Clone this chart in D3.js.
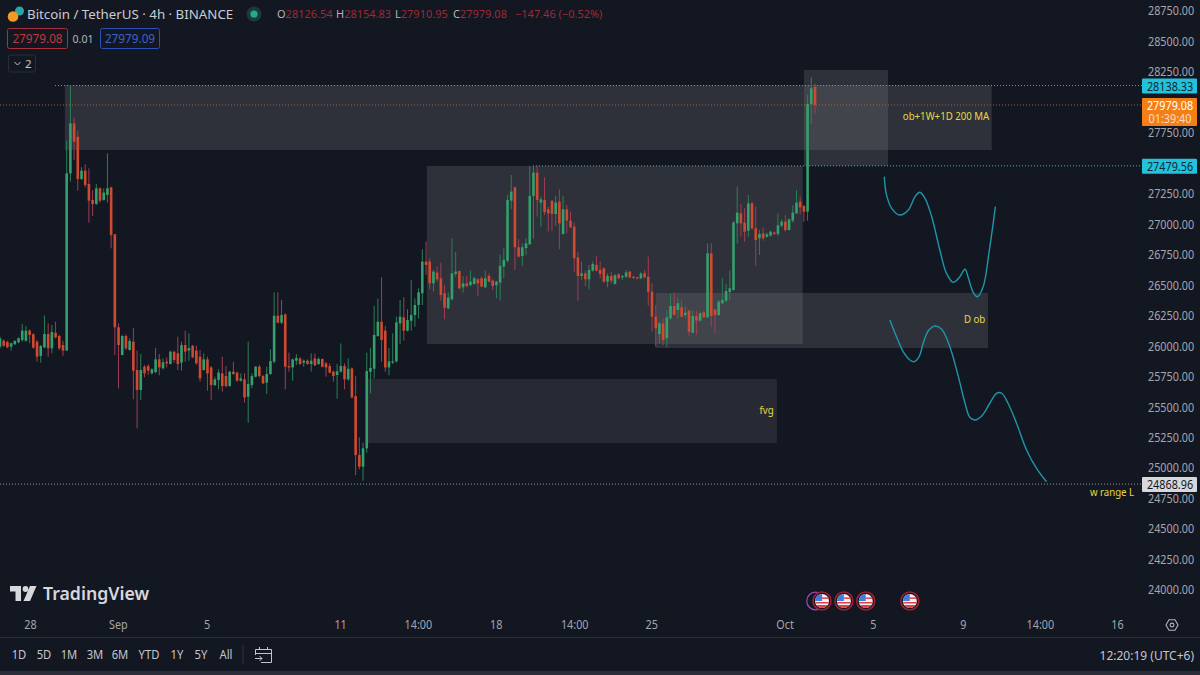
<!DOCTYPE html>
<html>
<head>
<meta charset="utf-8">
<script src="https://cdn.jsdelivr.net/npm/d3@7"></script>
<style>
html, body { margin: 0; padding: 0; background: #131722; overflow: hidden; }
svg text { font-family: "Noto Sans", sans-serif; }
</style>
</head>
<body>
<div id="chart"></div>
<script>
'use strict';

// 4h candles, oldest first
var opens = [25996,26045,26035,25996,26016,26032,26051,26045,26128,26098,26037,25920,25991,26100,25983,26111,26084,26010,25964,27418,27828,27719,27372,27440,27331,27200,27167,27295,27200,27241,27303,26918,26155,25928,26084,25969,26037,25805,25641,25832,25838,25778,25788,25892,25819,25873,25854,25955,25942,25865,26010,25964,26004,25964,
	25914,25805,25892,25826,25681,25723,25777,25755,25673,25791,25783,25717,25728,25586,25681,25750,25832,25755,25701,25772,25873,26250,26193,26261,25837,25826,25881,25900,25865,25881,25854,25900,25854,25895,25859,25837,25791,25764,25791,25837,25728,25818,25591,25107,25012,25162,25791,25815,26083,26201,26127,25826,25870,25876,26187,26237,26127,26209,26256,26338,
	26434,26694,26694,26516,26604,26557,26434,26311,26385,26593,26617,26483,26516,26502,26511,26549,26557,26483,26576,26538,26500,26522,26653,26702,27194,27304,26812,26740,26806,26836,27233,27424,27178,27200,27123,27194,27085,27186,26921,27123,27030,26981,26729,26576,26598,26549,26620,26667,26626,26639,26530,26576,26511,26590,
	26565,26570,26612,26570,26565,26557,26598,26570,26447,26242,26100,26188,26065,26229,26330,26297,26319,26256,26292,26111,26248,26210,26278,26237,26762,26302,26256,26352,26374,26445,26461,27008,27090,27014,26948,27172,26967,26885,26926,26899,26907,26932,26921,26989,27022,26953,27030,27090,27186,27150,27104,27987,28126.54];
var highs = [26078,26056,26045,26029,26051,26073,26182,26166,26139,26106,26051,26010,26251,26188,26174,26201,26095,26045,27686,28143,27878,27768,27468,27492,27459,27282,27331,27303,27295,27582,27309,26921,26188,26092,26098,26065,26149,25964,25936,25846,25851,25819,25985,25936,25901,25906,25964,25964,26078,26037,26128,26106,26010,26004,
	25969,25941,25914,25837,25750,25810,25914,25837,25796,25873,25791,25777,25777,26037,25777,25837,25848,25764,25832,25974,26442,26442,26379,26269,25947,25898,25936,25909,25892,25892,25941,25941,25908,25900,25870,25859,25799,25854,26023,25859,25900,25826,25755,25252,25208,25947,25988,26330,26390,26565,26166,25985,26105,26242,26379,26401,26302,26543,26392,26475,
	26795,26858,26721,26626,26653,26686,26502,26440,26885,26773,26620,26576,26576,26620,26571,26557,26571,26620,26598,26549,26535,26749,26803,27241,27405,27309,26877,26844,26883,27479,27479,27479,27227,27386,27145,27194,27233,27287,27233,27159,27104,27014,26776,26694,26620,26667,26694,26740,26694,26647,26598,26612,26593,26598,
	26584,26625,26617,26576,26570,26609,26625,26735,26516,26338,26201,26229,26292,26428,26439,26401,26384,26324,26297,26292,26292,26283,26292,26844,26844,26302,26379,26557,26510,26620,27027,27309,27167,27131,27240,27186,27145,26953,26975,26932,26948,26940,27090,27041,27076,27046,27156,27281,27227,27159,28061,28206,28154.83];
var lows = [25983,25996,25983,25964,26010,26024,26037,26037,26024,25980,25873,25865,25983,25914,25942,26065,25969,25920,25964,27350,27528,27276,27364,27303,27014,27068,27159,27178,27194,27178,26803,25928,25654,25925,25969,25964,25564,25326,25559,25745,25764,25767,25778,25761,25810,25827,25851,25865,25805,25799,25873,25881,25901,25846,
	25709,25799,25635,25558,25673,25646,25627,25662,25668,25764,25709,25709,25537,25372,25654,25744,25744,25690,25608,25764,25859,26187,26182,25646,25791,25717,25846,25846,25832,25846,25791,25837,25846,25826,25750,25777,25709,25569,25783,25646,25717,25572,24943,24990,24897,25126,25613,25736,26078,25873,25791,25761,25854,25865,26018,26045,26122,26127,26160,26228,
	26338,26585,26467,26448,26530,26374,26221,26303,26374,26571,26467,26440,26483,26489,26505,26412,26483,26478,26522,26461,26393,26374,26557,26686,27123,26626,26729,26658,26749,26831,26883,27063,26981,27077,26940,26948,26986,26795,26913,26926,26967,26612,26374,26544,26494,26467,26612,26612,26557,26522,26483,26516,26505,26549,
	26543,26557,26557,26551,26549,26549,26557,26330,26119,25996,26024,26010,25991,26215,26256,26229,26237,26237,26084,26106,26092,26201,26229,26229,26160,26106,26248,26346,26357,26379,26456,26844,26899,26858,26899,26953,26658,26748,26866,26888,26899,26912,26904,26972,26940,26948,27014,27085,27085,27022,27030,27823,27910.95];
var closes = [26065,26004,25991,26024,26043,26065,26128,26128,26092,25988,25914,26002,26100,25983,26117,26073,25983,25964,27418,27828,27678,27372,27440,27323,27194,27167,27295,27194,27260,27295,26912,26155,26010,26084,25983,26043,25799,25641,25805,25778,25799,25810,25892,25827,25868,25860,25955,25887,25854,26010,25955,25985,25909,25860,
	25736,25892,25777,25681,25728,25783,25673,25673,25791,25772,25717,25736,25580,25690,25755,25832,25755,25695,25772,25878,26250,26193,26256,25832,25826,25892,25903,25854,25881,25854,25881,25843,25895,25832,25826,25783,25755,25794,25837,25728,25815,25580,25107,25012,25162,25796,25821,26092,26201,26051,25826,25876,25876,26196,26242,26127,26215,26256,26338,26442,
	26694,26667,26516,26612,26549,26420,26317,26399,26598,26612,26475,26516,26494,26530,26557,26516,26489,26557,26530,26494,26530,26658,26708,27200,27268,26812,26735,26812,26844,27233,27424,27200,27205,27101,27090,27085,27178,27008,27123,27030,26976,26721,26576,26598,26549,26626,26675,26620,26593,26530,26576,26538,26582,26557,
	26576,26606,26565,26560,26554,26595,26565,26447,26242,26147,26188,26051,26237,26330,26256,26352,26242,26275,26119,26248,26210,26270,26237,26762,26248,26256,26365,26379,26453,26475,27014,27096,27008,26940,27172,26967,26871,26921,26885,26918,26940,26921,26992,27022,26953,27041,27096,27178,27139,27104,27987,28116,27979.08];

// price and time labels (28000 and 27500 sit behind the price tags, so they do not show)
var priceTicks = [28750,28500,28250,27750,27250,27000,26750,26500,26250,26000,25750,25500,25250,25000,24750,24500,24250,24000];
var timeTickBars = [8.1,31.8,55.8,91.8,112.8,133.8,155,175.8,211.8,235.6,259.9,280.7,301.5];
var timeTickLabels = ['28','Sep','5','11','14:00','18','14:00','25','Oct','5','9','14:00','16'];
var rangeButtons = ['1D','5D','1M','3M','6M','YTD','1Y','5Y','All'];
var rangeButtonX = [19,44,69,95,120,149,177,201,226];

// shaded zones: from bar, to bar, top price, bottom price
var zoneFrom = [17.5,217,115.2,177,99];
var zoneTo = [267.7,239.7,216.7,266.7,209.7];
var zoneTop = [28143,28266,27479,26437,25731];
var zoneBottom = [27610,27479,26018,25985,25206];

// hand drawn projection paths
var path1Bars = [238.7,239.3,240.7,242.9,245.2,247,248.3,249.7,251.5,253.7,255.5,257.3,258.9,260.5,261.3,262.7,263.8,265.4,267,268.7];
var path1Prices = [27391,27241,27131,27076,27117,27227,27263,27213,27062,26789,26598,26524,26562,26631,26570,26442,26406,26488,26775,27145];
var path2Bars = [240.2,242,243.8,245.6,246.8,248.1,249.2,250.6,252.4,254.2,256.4,258.7,260.5,261.8,263.2,265,267.2,269,270.4,272.1,274.4,277.1,279.8,282.5];
var path2Prices = [26215,26078,25955,25887,25873,25914,26024,26127,26166,26139,25996,25750,25532,25417,25395,25428,25532,25614,25614,25532,25368,25149,24998,24888];

// notes on the chart
var noteLabels = ['ob+1W+1D 200 MA','D ob','fvg','w range L'];
var noteBars = [243.7,260.2,205,294.2];
var notePrices = [27858,26188,25447,24773];

var eventBars = [221.9,227.8,233.7,245.6];

var width = 1200, height = 675;
var bg = '#131722';
var upBody = '#33a06e', upWick = '#2b8055', downBody = '#d04a30', downWick = '#a23c52';
var noteColor = '#e8d840', pathColor = '#1f96a8';

var x = d3.scaleLinear().domain([0, 220]).range([0, 815]);
var y = d3.scaleLinear().domain([28750, 24000]).range([11, 590]);

var svg = d3.select('#chart').append('svg')
	.attr('width', width).attr('height', height)
	.style('display', 'block');

// no condensed font is installed, so narrow the glyphs by hand
function squeeze(sel, k) {
	sel.each(function () {
		d3.select(this)
			.attr('textLength', this.getComputedTextLength() * k)
			.attr('lengthAdjust', 'spacingAndGlyphs');
	});
}

svg.append('rect').attr('width', width).attr('height', height).attr('fill', bg);

// zones, the fvg box is a bit fainter than the others
svg.append('g').selectAll('rect').data(zoneFrom).enter().append('rect')
	.attr('x', function (d) { return x(d); })
	.attr('width', function (d, i) { return x(zoneTo[i]) - x(d); })
	.attr('y', function (d, i) { return y(zoneTop[i]); })
	.attr('height', function (d, i) { return y(zoneBottom[i]) - y(zoneTop[i]); })
	.attr('fill', '#7f8084')
	.attr('fill-opacity', function (d, i) { return i === 4 ? 0.19 : 0.25; });

// horizontal levels
function level(price, x0, x1, color) {
	svg.append('line')
		.attr('x1', x0).attr('x2', x1)
		.attr('y1', y(price)).attr('y2', y(price))
		.attr('stroke', color)
		.attr('stroke-dasharray', '1 2');
}
level(28138.33, 55, 1142, '#4fa8b8');
level(27979.08, 0, 1142, '#a8623a');
level(27479.56, 533, 1142, '#4fa8b8');
level(24868.96, 0, 1142, '#9a9ca3');

// candles
var candles = svg.append('g').selectAll('g').data(opens).enter().append('g');
candles.append('line')
	.attr('x1', function (d, i) { return x(i); })
	.attr('x2', function (d, i) { return x(i); })
	.attr('y1', function (d, i) { return y(highs[i]); })
	.attr('y2', function (d, i) { return y(lows[i]); })
	.attr('stroke', function (d, i) { return closes[i] >= d ? upWick : downWick; })
	.attr('stroke-width', 1);
candles.append('rect')
	.attr('x', function (d, i) { return x(i) - 1.3; })
	.attr('width', 2.6)
	.attr('y', function (d, i) { return y(Math.max(d, closes[i])); })
	.attr('height', function (d, i) { return Math.max(1.2, Math.abs(y(d) - y(closes[i]))); })
	.attr('fill', function (d, i) { return closes[i] >= d ? upBody : downBody; });

// projection paths
var pathLine = d3.line().curve(d3.curveCatmullRom)
	.x(function (d) { return x(d[0]); })
	.y(function (d) { return y(d[1]); });
svg.append('path')
	.datum(d3.zip(path1Bars, path1Prices))
	.attr('d', pathLine).attr('fill', 'none').attr('stroke', pathColor).attr('stroke-width', 1.4);
svg.append('path')
	.datum(d3.zip(path2Bars, path2Prices))
	.attr('d', pathLine).attr('fill', 'none').attr('stroke', pathColor).attr('stroke-width', 1.4);

// notes
svg.append('g').selectAll('text').data(noteLabels).enter().append('text')
	.attr('x', function (d, i) { return x(noteBars[i]); })
	.attr('y', function (d, i) { return y(notePrices[i]); })
	.attr('fill', noteColor)
	.attr('font-size', 10.5)
	.text(function (d) { return d; })
	.call(squeeze, 0.92);

// price axis
var yAxis = svg.append('g')
	.attr('transform', 'translate(1142,0)')
	.call(d3.axisRight(y).tickValues(priceTicks).tickSize(0).tickPadding(6)
		.tickFormat(function (d) { return d3.format('.2f')(d); }));
yAxis.select('.domain').remove();
yAxis.selectAll('text').attr('fill', '#a3a6af').attr('font-size', 12).style('font-family', '"Noto Sans", sans-serif').call(squeeze, 0.9);

function tagText(yPos, label, color) {
	svg.append('text').attr('x', 1170).attr('y', yPos).attr('text-anchor', 'middle')
		.attr('font-size', 12).attr('fill', color).text(label).call(squeeze, 0.9);
}
function priceTag(price, label, fill, color) {
	svg.append('rect').attr('x', 1142).attr('y', y(price) - 7).attr('width', 55).attr('height', 15).attr('rx', 1).attr('fill', fill);
	tagText(y(price) + 5, label, color);
}
priceTag(28138.33, '28138.33', '#22c1dc', '#0d2a33');
priceTag(27479.56, '27479.56', '#22c1dc', '#0d2a33');
priceTag(24868.96, '24868.96', '#d7d8db', '#131722');

svg.append('rect').attr('x', 1142).attr('y', 98).attr('width', 55).attr('height', 28).attr('rx', 1).attr('fill', '#f57f17');
tagText(110, '27979.08', '#fff');
tagText(122.5, '01:39:40', '#fbdcc0');

// time axis
var xAxis = svg.append('g')
	.attr('transform', 'translate(0,616)')
	.call(d3.axisBottom(x).tickValues(timeTickBars).tickSize(0).tickPadding(4)
		.tickFormat(function (d, i) { return timeTickLabels[i]; }));
xAxis.select('.domain').remove();
xAxis.selectAll('text').attr('fill', '#a3a6af').attr('font-size', 12).style('font-family', '"Noto Sans", sans-serif').call(squeeze, 0.9);

// settings hexagon
var gear = svg.append('g').attr('transform', 'translate(1172,625)').attr('fill', 'none').attr('stroke', '#b2b5be').attr('stroke-width', 1.1);
gear.append('path').attr('d', 'M-6,0 L-3,-5.2 L3,-5.2 L6,0 L3,5.2 L-3,5.2 Z');
gear.append('circle').attr('r', 1.9);

// event markers
var ev = svg.append('g');
ev.append('circle').attr('cx', x(eventBars[0]) - 6.5).attr('cy', 601).attr('r', 8.8).attr('fill', bg).attr('stroke', '#a048c8').attr('stroke-width', 1.2);
var flags = ev.selectAll('g').data(eventBars).enter().append('g')
	.attr('transform', function (d) { return 'translate(' + x(d) + ',601)'; });
flags.append('circle').attr('r', 9).attr('fill', '#131722').attr('stroke', '#9c2030').attr('stroke-width', 1.6);
flags.append('circle').attr('r', 7).attr('fill', '#f2f2f5');
flags.append('path').attr('d', 'M-7,0 A7,7 0 0 1 0,-7 L0,0 Z').attr('fill', '#3d7fe0');
flags.append('rect').attr('x', -6.6).attr('y', 1).attr('width', 13.2).attr('height', 1.5).attr('fill', '#e0404a');
flags.append('rect').attr('x', 0).attr('y', -3.6).attr('width', 6.6).attr('height', 1.5).attr('fill', '#e0404a');
flags.append('path').attr('d', 'M-5.7,4 L5.7,4 A7,7 0 0 1 -5.7,4 Z').attr('fill', '#e0404a');

// TradingView logo
var logo = svg.append('g').attr('transform', 'translate(10,586)').attr('fill', '#d6d8de');
logo.append('path').attr('d', 'M0,0 H11 V15 H5.5 V5.5 H0 Z');
logo.append('circle').attr('cx', 15.5).attr('cy', 3).attr('r', 2.9);
logo.append('path').attr('d', 'M20,0 H26.5 L20,15 H13.5 Z');
svg.append('text').attr('x', 43).attr('y', 600).attr('font-size', 17.7).attr('font-weight', 600).attr('fill', '#d6d8de').text('TradingView');

// bottom toolbar
svg.append('line').attr('x1', 0).attr('x2', width).attr('y1', 637.5).attr('y2', 637.5).attr('stroke', '#2a2e39');
svg.append('rect').attr('x', 0).attr('y', 671).attr('width', width).attr('height', 4).attr('fill', '#2a2e39');
svg.append('g').selectAll('text').data(rangeButtons).enter().append('text')
	.attr('x', function (d, i) { return rangeButtonX[i]; })
	.attr('y', 659).attr('text-anchor', 'middle')
	.attr('font-size', 12.5).attr('fill', '#c3c6ce')
	.text(function (d) { return d; })
	.call(squeeze, 0.9);
svg.append('line').attr('x1', 243).attr('x2', 243).attr('y1', 645).attr('y2', 664).attr('stroke', '#2f333e');
var cal = svg.append('g').attr('transform', 'translate(255,647)').attr('fill', 'none').attr('stroke', '#c3c6ce').attr('stroke-width', 1);
cal.append('path').attr('d', 'M0.5,8 V2.5 H16.5 V15.5 H6 M0.5,6.5 H16.5 M4.5,0 V3 M12.5,0 V3 M0,11.5 H7 M4.5,9 L7,11.5 L4.5,14');
svg.append('text').attr('x', 1194).attr('y', 659.5).attr('text-anchor', 'end').attr('font-size', 12).attr('fill', '#c3c6ce').text('12:20:19 (UTC+6)');

// header
svg.append('circle').attr('cx', 19.5).attr('cy', 11).attr('r', 4.5).attr('fill', '#2aa5a0');
svg.append('circle').attr('cx', 13).attr('cy', 16.5).attr('r', 5.3).attr('fill', '#f09a28');
svg.append('text').attr('x', 27).attr('y', 19).attr('font-size', 13.3).attr('fill', '#c9ccd4').text('Bitcoin / TetherUS · 4h · BINANCE');
svg.append('circle').attr('cx', 254).attr('cy', 14).attr('r', 7.5).attr('fill', '#1c3a3a');
svg.append('circle').attr('cx', 254).attr('cy', 14).attr('r', 3.6).attr('fill', '#22ab94');

var ohlcLabels = ['O','H','L','C'];
var ohlcValues = ['28126.54','28154.83','27910.95','27979.08'];
var ohlcX = [277,336,395,453];
ohlcLabels.forEach(function (d, i) {
	var t = svg.append('text').attr('x', ohlcX[i]).attr('y', 18).attr('font-size', 11);
	t.append('tspan').attr('fill', '#b2b5be').text(d);
	t.append('tspan').attr('fill', '#9c2b35').text(ohlcValues[i]);
});
svg.append('text').attr('x', 515).attr('y', 18).attr('font-size', 11).attr('fill', '#9c2b35').text('−147.46 (−0.52%)');

// bid and ask boxes
svg.append('rect').attr('x', 7.5).attr('y', 28.5).attr('width', 60).attr('height', 20).attr('rx', 2).attr('fill', 'none').attr('stroke', '#a8313b');
svg.append('text').attr('x', 37.5).attr('y', 43).attr('text-anchor', 'middle').attr('font-size', 12.5).attr('fill', '#c0393f').text('27979.08').call(squeeze, 0.94);
svg.append('text').attr('x', 83).attr('y', 43).attr('text-anchor', 'middle').attr('font-size', 10.5).attr('fill', '#b2b5be').text('0.01');
svg.append('rect').attr('x', 100.5).attr('y', 28.5).attr('width', 59).attr('height', 20).attr('rx', 2).attr('fill', 'none').attr('stroke', '#2c4fb8');
svg.append('text').attr('x', 130).attr('y', 43).attr('text-anchor', 'middle').attr('font-size', 12.5).attr('fill', '#3a63cc').text('27979.09').call(squeeze, 0.94);
svg.append('rect').attr('x', 8.5).attr('y', 55).attr('width', 27).attr('height', 17).attr('rx', 2).attr('fill', 'none').attr('stroke', '#2a2e39');
svg.append('path').attr('d', 'M14.5,62 L17.5,65 L20.5,62').attr('fill', 'none').attr('stroke', '#c3c6ce');
svg.append('text').attr('x', 25).attr('y', 68).attr('font-size', 11.5).attr('fill', '#c3c6ce').text('2');
</script>
</body>
</html>
